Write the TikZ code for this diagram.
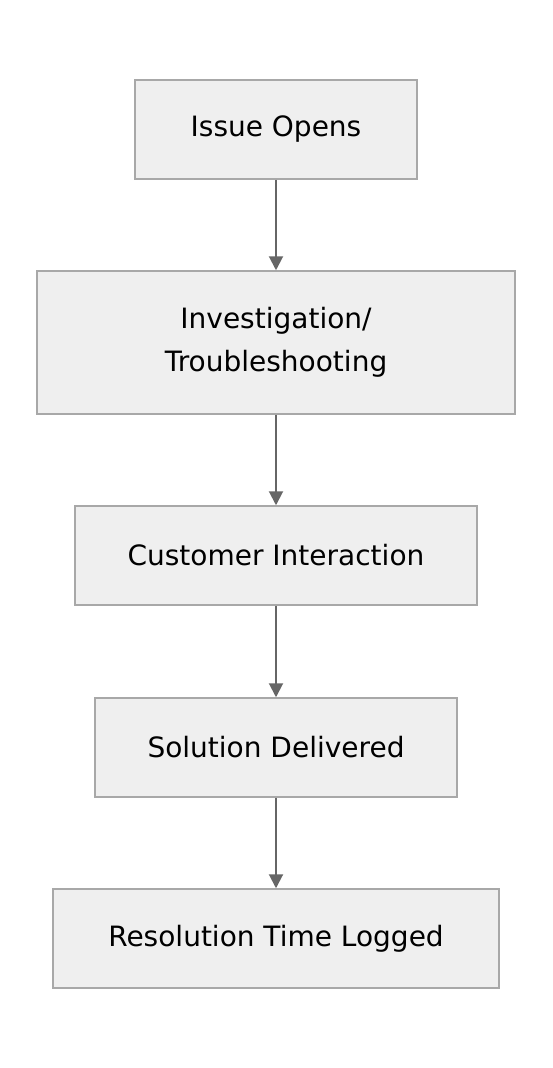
\documentclass[tikz,border=0pt]{standalone}
\usepackage{fontspec}
\setmainfont{DejaVu Sans}
\usetikzlibrary{arrows.meta}
\definecolor{boxfill}{HTML}{EFEFEF}
\definecolor{boxline}{HTML}{A8A8A8}
\definecolor{arrowgray}{HTML}{666666}

\begin{document}
\begin{tikzpicture}[x=1pt, y=1pt,
    stage/.style={draw=boxline, fill=boxfill, line width=1.5pt, inner sep=0pt,
      minimum height=99pt, align=center, font=\fontsize{28}{43}\selectfont},
    flow/.style={draw=arrowgray, line width=2pt, -{Triangle[length=14pt, width=14pt]}}]
      \useasboundingbox (0,0) rectangle (552,-1068);
      \node[stage, minimum width=282pt] (issue) at (276,-129.5) {Issue Opens};
      \node[stage, minimum width=478pt, minimum height=143pt] (invest) at (276,-342.5)
        {Investigation/\\Troubleshooting};
      \node[stage, minimum width=402pt] (customer) at (276,-555.5) {Customer Interaction};
      \node[stage, minimum width=362pt] (solution) at (276,-747.5) {Solution Delivered};
      \node[stage, minimum width=446pt] (logged) at (276,-938.5) {Resolution Time Logged};

      \draw[flow] (issue) -- (invest);
      \draw[flow] (invest) -- (customer);
      \draw[flow] (customer) -- (solution);
      \draw[flow] (solution) -- (logged);
    \end{tikzpicture}
\end{document}
